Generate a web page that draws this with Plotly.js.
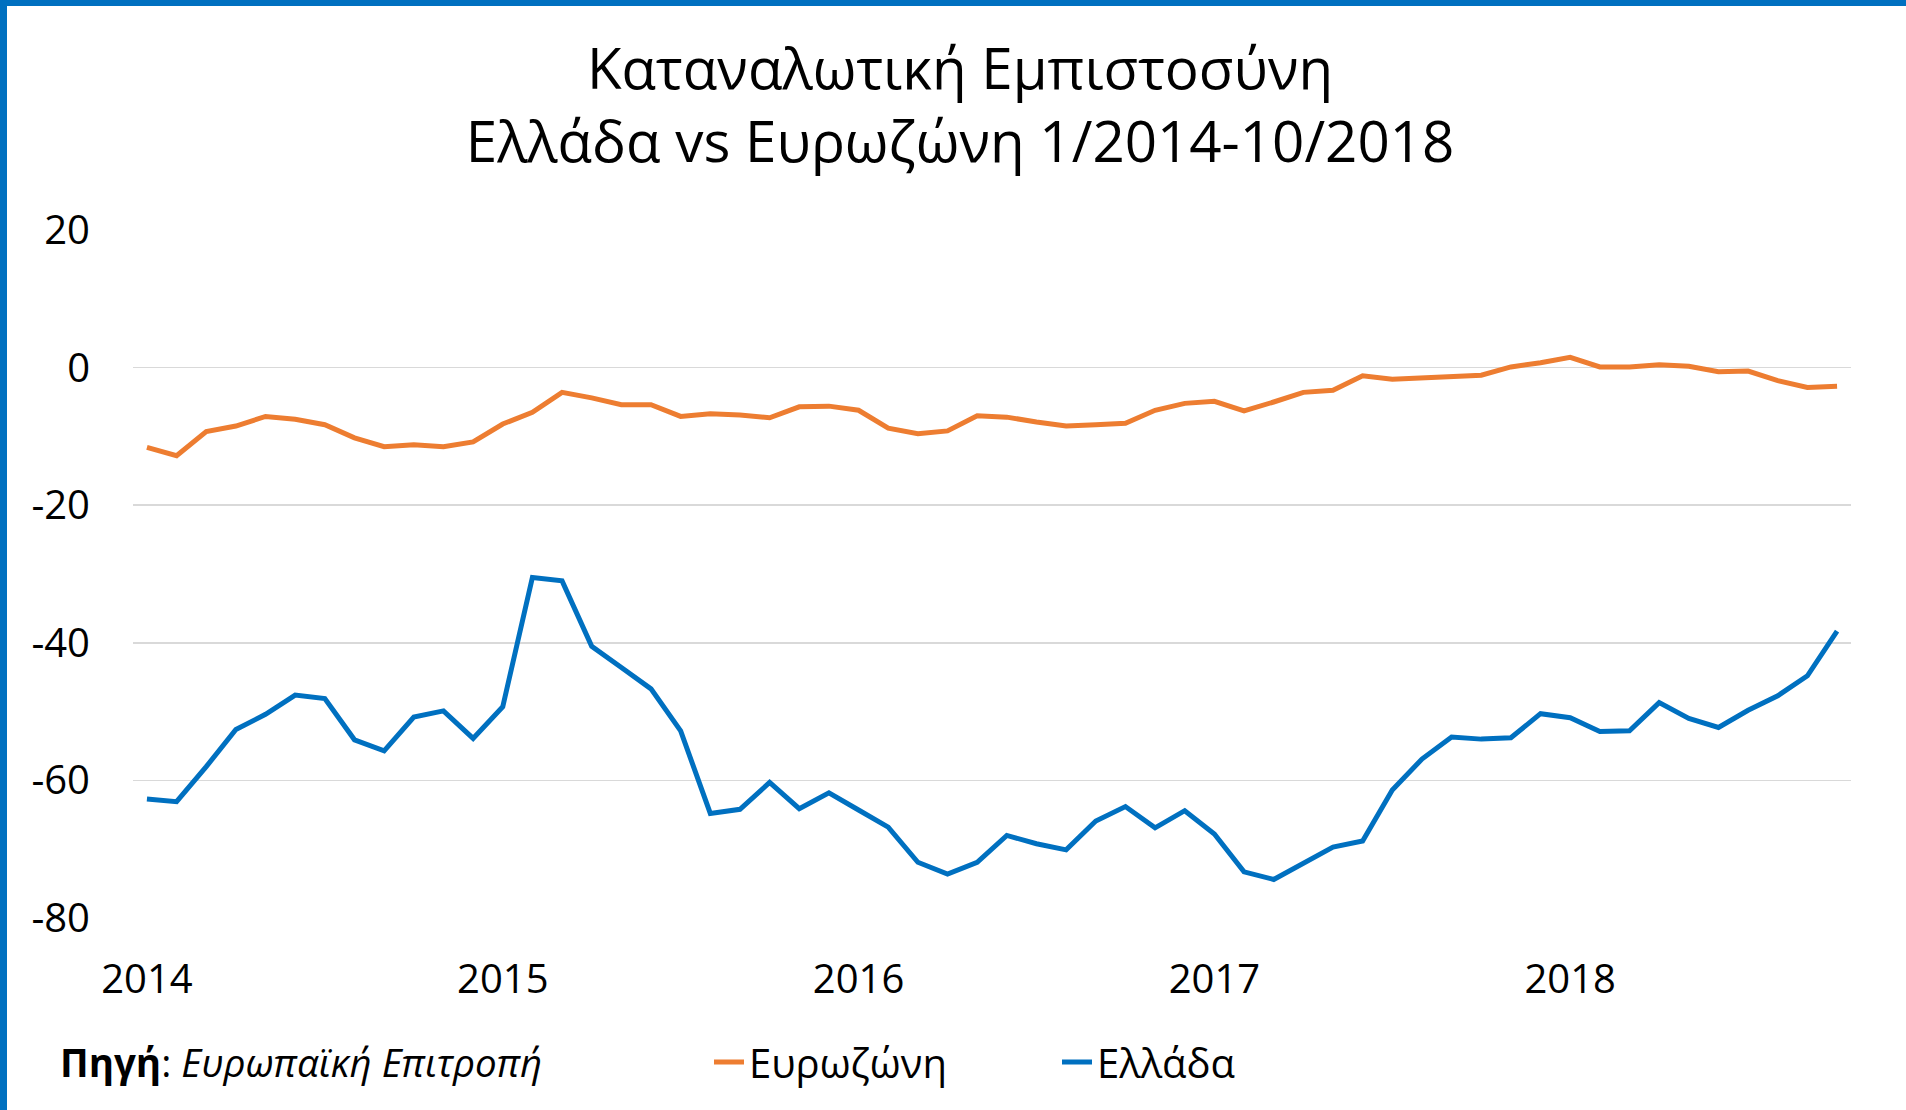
<!DOCTYPE html>
<html>
<head>
<meta charset="utf-8">
<script src="https://cdn.plot.ly/plotly-3.0.1.min.js"></script>
<style>
  html, body { margin: 0; padding: 0; background: #ffffff; }
  #wrap { position: relative; width: 1906px; height: 1110px; overflow: hidden; }
  #chart { position: absolute; left: 0; top: 0; width: 1906px; height: 1110px; }
  #bTop { position: absolute; left: 0; top: 0; width: 1906px; height: 6px; background: #0070C0; }
  #bLeft { position: absolute; left: 0; top: 0; width: 7px; height: 1110px; background: #0070C0; }
</style>
</head>
<body>
<div id="wrap">
  <div id="chart"></div>
  <div id="bTop"></div>
  <div id="bLeft"></div>
</div>
<script>
const months = [
  '2014-01','2014-02','2014-03','2014-04','2014-05','2014-06','2014-07','2014-08','2014-09','2014-10','2014-11','2014-12',
  '2015-01','2015-02','2015-03','2015-04','2015-05','2015-06','2015-07','2015-08','2015-09','2015-10','2015-11','2015-12',
  '2016-01','2016-02','2016-03','2016-04','2016-05','2016-06','2016-07','2016-08','2016-09','2016-10','2016-11','2016-12',
  '2017-01','2017-02','2017-03','2017-04','2017-05','2017-06','2017-07','2017-08','2017-09','2017-10','2017-11','2017-12',
  '2018-01','2018-02','2018-03','2018-04','2018-05','2018-06','2018-07','2018-08','2018-09','2018-10'
];

const eurozone = [
  -11.6, -12.8, -9.3, -8.5, -7.1, -7.5, -8.3, -10.2, -11.5, -11.2, -11.5, -10.8,
  -8.2, -6.5, -3.6, -4.4, -5.4, -5.4, -7.1, -6.7, -6.9, -7.3, -5.7, -5.6,
  -6.2, -8.8, -9.6, -9.2, -7.0, -7.2, -7.9, -8.5, -8.3, -8.1, -6.2, -5.2,
  -4.9, -6.3, -5.0, -3.6, -3.3, -1.2, -1.7, -1.5, -1.2, -1.1, 0.1, 0.7,
  1.5, 0.1, 0.1, 0.4, 0.2, -0.6, -0.5, -1.9, -2.9, -2.7
];

const greece = [
  -62.7, -63.1, -58.0, -52.6, -50.4, -47.6, -48.1, -54.1, -55.7, -50.8, -49.9, -53.9,
  -49.3, -30.5, -31.0, -40.5, -43.6, -46.7, -52.8, -64.8, -64.2, -60.3, -64.1, -61.8,
  -64.3, -66.8, -71.9, -73.6, -71.9, -68.0, -69.2, -70.1, -65.9, -63.8, -66.9, -64.4,
  -67.8, -73.3, -74.4, -72.1, -69.7, -68.8, -61.4, -56.9, -53.7, -54.0, -53.8, -50.3,
  -50.9, -52.9, -52.8, -48.7, -51.0, -52.3, -49.8, -47.7, -44.8, -38.3
];

const yearTickVals = ['2014-01','2015-01','2016-01','2017-01','2018-01'];
const yearTickText = ['2014','2015','2016','2017','2018'];
const yTickVals = [20, 0, -20, -40, -60, -80];
const yTickText = ['20', '0', '-20', '-40', '-60', '-80'];

const seriesNames = ['Ευρωζώνη', 'Ελλάδα'];
const titleText = 'Καταναλωτική Εμπιστοσύνη<br>Ελλάδα vs Ευρωζώνη 1/2014-10/2018';
const sourceText = '<b>Πηγή</b>: <i>Ευρωπαϊκή Επιτροπή</i>';

const FONT = 'Open Sans, Noto Sans, sans-serif';

const traces = [
  { type: 'scatter', mode: 'lines', name: seriesNames[0], x: months, y: eurozone,
    line: { color: '#ED7D31', width: 5 } },
  { type: 'scatter', mode: 'lines', name: seriesNames[1], x: months, y: greece,
    line: { color: '#0070C0', width: 5 } }
];

const layout = {
  width: 1906, height: 1110,
  paper_bgcolor: '#ffffff', plot_bgcolor: '#ffffff',
  margin: { l: 133, r: 55, t: 230, b: 192, pad: 0 },
  font: { family: FONT, color: '#000000', size: 40 },
  title: { text: titleText, x: 0.5037, xanchor: 'center', xref: 'container',
           y: 1 - 89 / 1110, yanchor: 'middle', yref: 'container',
           font: { family: FONT, size: 56.5, color: '#000000' } },
  xaxis: { type: 'category', range: [-0.47, 57.47], tickmode: 'array',
           tickvals: yearTickVals, ticktext: yearTickText,
           showgrid: false, zeroline: false, showline: false, ticks: '',
           ticklabelstandoff: 34,
           tickfont: { family: FONT, size: 40, color: '#000000' } },
  yaxis: { range: [-80, 20], tickmode: 'array', tickvals: yTickVals, ticktext: yTickText,
           showgrid: true, gridcolor: '#D9D9D9', gridwidth: 1.5,
           zeroline: false, showline: false, ticks: '',
           ticklabelstandoff: 42,
           tickfont: { family: FONT, size: 40, color: '#000000' } },
  showlegend: true,
  legend: { orientation: 'h', x: (709 - 133) / 1718, xanchor: 'left',
            y: (918 - 1062) / 688, yanchor: 'middle',
            font: { family: FONT, size: 40, color: '#000000' },
            bgcolor: 'rgba(0,0,0,0)', itemwidth: 30, entrywidth: 303, entrywidthmode: 'pixels' },
  annotations: [
    { text: sourceText, xref: 'paper', yref: 'paper', x: (58 - 133) / 1718, xanchor: 'left',
      y: (918 - 1062) / 688, yanchor: 'middle', showarrow: false,
      font: { family: FONT, size: 38.5, color: '#000000' } }
  ]
};

Plotly.newPlot('chart', traces, layout, { staticPlot: true, displayModeBar: false });
</script>
</body>
</html>
